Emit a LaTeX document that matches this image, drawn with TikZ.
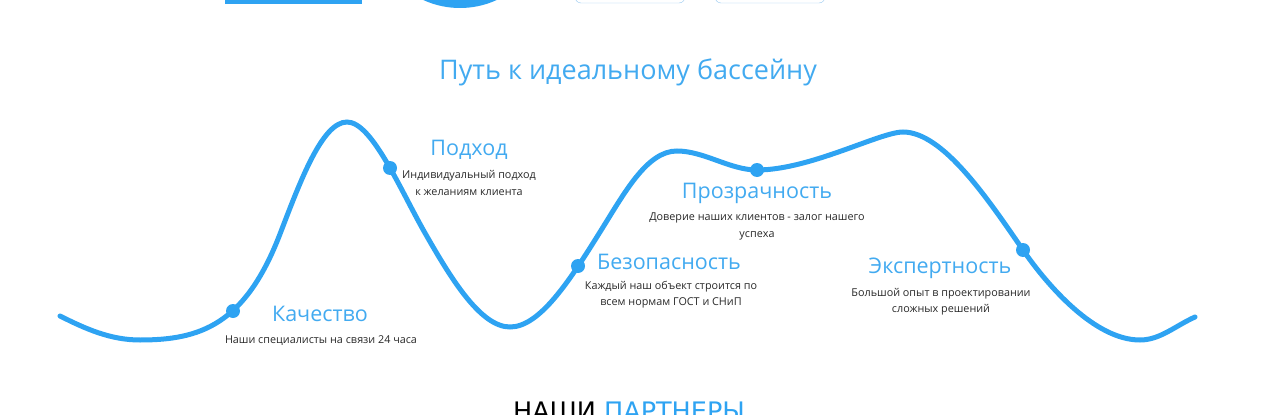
\documentclass[tikz,border=0pt]{standalone}
\usepackage{fontspec}
\setmainfont{Open Sans}
\newfontfamily\capsfont{DejaVu Sans}
\definecolor{poolblue}{RGB}{46,163,242}
\definecolor{headblue}{RGB}{66,170,240}
\definecolor{frameblue}{RGB}{150,200,240}
\definecolor{textgray}{RGB}{40,40,40}
\tikzset{
	waypoint/.style={circle,fill=poolblue,inner sep=0pt,minimum size=14pt},
	stagehead/.style={text=headblue,font=\fontsize{21.5}{25}\selectfont,inner sep=0pt},
	stagetext/.style={text=textgray,align=center,font=\fontsize{10.8}{16.5}\selectfont,inner sep=0pt},
}
\begin{document}
\begin{tikzpicture}[x=1pt,y=-1pt]
	\useasboundingbox (0,0) rectangle (1280,415);
	\clip (0,0) rectangle (1280,415);
	\fill[poolblue] (225,-20) rectangle (362,4);
	\fill[poolblue] (460,-80) circle (88);
	\draw[frameblue,rounded corners=6pt] (575,-20) rectangle (685,3);
	\draw[frameblue,rounded corners=6pt] (715,-20) rectangle (825,3);
	\node[text=headblue,font=\fontsize{27}{32}\selectfont,inner sep=0pt] at (628,72) (title) {Путь к идеальному бассейну};
	\draw[poolblue,line width=5pt,line cap=round] (60,316)
		.. controls (85,328.5) and (110,340) .. (140,340)
		.. controls (200,340) and (245,325) .. (280,234)
		.. controls (300,182) and (322,122) .. (347,122)
		.. controls (372,122) and (400,189.25) .. (425,233)
		.. controls (450,276.75) and (480,327) .. (510,327)
		.. controls (540,327) and (570,280) .. (600,232)
		.. controls (625,192) and (647,151) .. (677,151)
		.. controls (704,151) and (730,170) .. (757,170)
		.. controls (810,170) and (880,132) .. (903,132)
		.. controls (943,132) and (988,199.25) .. (1023,250)
		.. controls (1048,286.25) and (1095,340) .. (1140,340)
		.. controls (1160,340) and (1175,326) .. (1195,317);
	\foreach \i/\x/\y/\hx/\hy/\h/\tx/\ty/\t in {
		1/233/311/320/314/Качество/321/341/{Наши специалисты на связи 24 часа},
		2/390/168/469/150/Подход/469/183/{Индивидуальный подход\\к желаниям клиента},
		3/578/266/669/262/Безопасность/671/294.5/{Каждый наш объект строится по\\всем нормам ГОСТ и СНиП},
		4/757/170/757/193/Прозрачность/757/226.5/{Доверие наших клиентов - залог нашего\\успеха},
		5/1023/250/940/268/Экспертность/941/301.5/{Большой опыт в проектировании\\сложных решений}}{
		\node[waypoint] at (\x,\y) (d\i) {};
		\node[stagehead] at (\hx,\hy) (h\i) {\h};
		\node[stagetext] at (\tx,\ty) (t\i) {\t};
	}
	\node[anchor=base,font=\capsfont\fontsize{25.5}{30}\selectfont,inner sep=0pt] at (629,420) (partners) {\textcolor{black}{НАШИ} \textcolor{poolblue}{ПАРТНЕРЫ}};
\end{tikzpicture}
\end{document}
